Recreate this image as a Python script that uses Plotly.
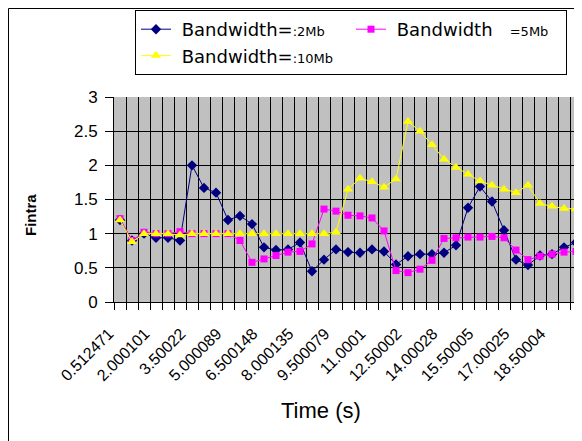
import plotly.graph_objects as go

# category index (39 sampling instants), every third labelled
idx = list(range(39))
tick_pos = list(range(0, 39, 3))
tick_labels = ["0.512471", "2.000101", "3.50022", "5.000089", "6.500148", "8.000135",
               "9.500079", "11.0001", "12.50002", "14.00028", "15.50005", "17.00025", "18.50004"]

bw_2mb = [1.20, 0.90, 1.00, 0.94, 0.94, 0.90, 2.00, 1.67, 1.60, 1.20,
          1.26, 1.14, 0.80, 0.76, 0.77, 0.87, 0.45, 0.62, 0.77, 0.73,
          0.72, 0.77, 0.74, 0.55, 0.67, 0.70, 0.70, 0.72, 0.83, 1.38,
          1.69, 1.47, 1.05, 0.62, 0.54, 0.68, 0.70, 0.80, 0.87]
bw_5mb = [1.22, 0.90, 1.02, 1.00, 1.00, 1.03, 1.00, 1.00, 1.00, 1.00,
          0.90, 0.58, 0.63, 0.68, 0.73, 0.74, 0.85, 1.36, 1.33, 1.27,
          1.26, 1.23, 1.04, 0.46, 0.43, 0.48, 0.61, 0.93, 0.94, 0.95,
          0.95, 0.96, 0.94, 0.76, 0.62, 0.67, 0.70, 0.73, 0.74]
bw_10mb = [1.20, 0.88, 1.00, 1.00, 1.00, 0.98, 1.00, 1.00, 1.00, 1.00,
           1.00, 1.00, 1.00, 1.00, 1.00, 1.00, 1.00, 1.00, 1.02, 1.65,
           1.81, 1.76, 1.68, 1.80, 2.64, 2.50, 2.30, 2.09, 1.97, 1.87,
           1.77, 1.71, 1.65, 1.60, 1.71, 1.44, 1.40, 1.37, 1.36]

names = ["\u00a0Bandwidth=<span style='font-size:13px'>:2Mb</span>",
         "\u00a0Bandwidth\u00a0\u00a0\u00a0<span style='font-size:13px'>=5Mb</span>",
         "\u00a0Bandwidth=<span style='font-size:13px'>:10Mb</span>"]

# the page body has an 8px default margin: the figure is sized/offset to fill the window
W, H = 574, 433
L, T = 106, 89
PW, PH = 468, 205


def px(wx):  # window x -> paper x
    return (wx - 8 - L) / PW


def py(wy):  # window y -> paper y
    return (T + PH - (wy - 8)) / PH


fig = go.Figure()
fig.add_trace(go.Scatter(x=idx, y=bw_2mb, mode="lines+markers", name=names[0], legendwidth=158,
                         line=dict(color="#000080", width=1),
                         marker=dict(symbol="diamond", size=8, color="#000080")))
fig.add_trace(go.Scatter(x=idx, y=bw_5mb, mode="lines+markers", name=names[1], legendwidth=170,
                         line=dict(color="#FF00FF", width=1),
                         marker=dict(symbol="square", size=7, color="#FF00FF")))
fig.add_trace(go.Scatter(x=idx, y=bw_10mb, mode="lines+markers", name=names[2], legendwidth=158,
                         line=dict(color="#FFFF00", width=1),
                         marker=dict(symbol="triangle-up", size=9, color="#FFFF00")))

fig.update_layout(
    width=W, height=H,
    margin=dict(l=L, r=W - L - PW, t=T, b=H - T - PH, autoexpand=False),
    paper_bgcolor="white", plot_bgcolor="#C0C0C0",
    font=dict(family="Liberation Sans, Arial", color="black"),
    showlegend=True,
    legend=dict(orientation="h", x=px(135), xanchor="left", y=py(10), yanchor="top",
                bordercolor="black", borderwidth=1, bgcolor="white",
                font=dict(size=18, family="DejaVu Sans"), entrywidthmode="pixels",
                itemclick=False),
    xaxis=dict(range=[-0.5, 38.5], tickmode="array", tickvals=tick_pos, ticktext=tick_labels,
               tickangle=-45, ticks="", showgrid=False, zeroline=False, automargin=False,
               showline=True, linecolor="black", linewidth=1,
               tickfont=dict(size=16), ticklabelstandoff=15, ticklabelshift=-11,
               minor=dict(tickmode="linear", tick0=-0.5, dtick=1, ticks="outside",
                          ticklen=7, tickcolor="black", showgrid=True,
                          gridcolor="black", gridwidth=1)),
    yaxis=dict(range=[0, 3], dtick=0.5, ticks="outside", ticklen=8, tickcolor="black",
               showgrid=True, gridcolor="black", gridwidth=1, zeroline=False, automargin=False,
               showline=True, linecolor="black", linewidth=1, ticklabelstandoff=4,
               tickfont=dict(size=17)),
    annotations=[
        dict(text="Time (s)", xref="paper", yref="paper", x=px(321), y=py(410),
             showarrow=False, font=dict(size=22), xanchor="center", yanchor="middle"),
        dict(text="<b>Fintra</b>", xref="paper", yref="paper", x=px(30), y=py(215),
             showarrow=False, font=dict(size=15), textangle=-90, xanchor="center", yanchor="middle"),
    ],
    shapes=[dict(type="rect", xref="paper", yref="paper", x0=px(8.5), x1=1.05,
                 y0=-0.8, y1=py(8.5), line=dict(color="black", width=1), layer="below")],
)

fig.write_html("out.html")
